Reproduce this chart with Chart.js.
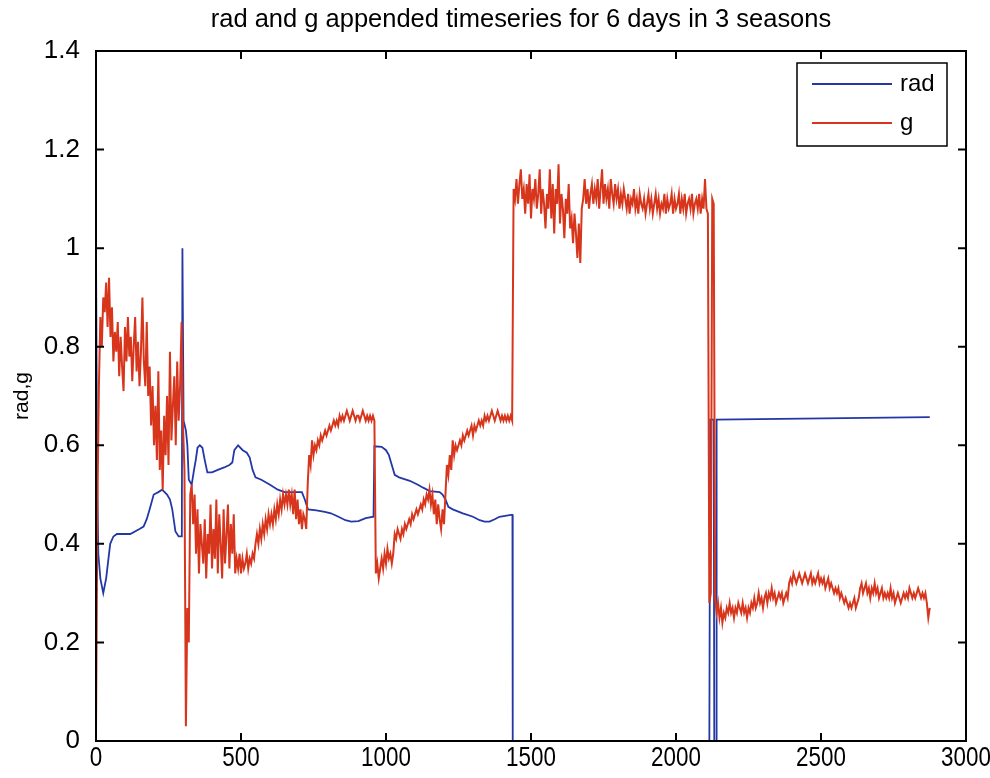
<!DOCTYPE html>
<html lang="en">
  <head>
    <meta charset="UTF-8" />
    <title>rad and g appended timeseries</title>
    <style>
      html, body { margin: 0; padding: 0; background: #fff; }
      canvas { display: block; }
    </style>
  </head>
  <body>
    <canvas id="grafico" width="990" height="778"></canvas>
    <script src="https://cdn.jsdelivr.net/npm/chart.js"></script>
    <script>
      // ---- data ----
      const titleText = "rad and g appended timeseries for 6 days in 3 seasons";
      const xTicks = [0, 500, 1000, 1500, 2000, 2500, 3000];
      const yTicks = [0, 0.2, 0.4, 0.6, 0.8, 1, 1.2, 1.4];

      // rad: breakpoints (sample index, value)
      const radT = [0, 4, 8, 15, 25, 35, 49, 60, 72, 118, 150, 164, 175, 185, 199, 215, 228, 245, 255, 263, 274, 285, 296,
        298, 302, 310, 315, 320, 330, 338, 344, 350, 358, 367, 375, 384, 400, 420, 442, 460, 470, 477, 490, 506, 520, 530,
        540, 550, 570, 600, 627, 650, 662, 710, 720, 731, 760, 789, 810, 836, 860, 880, 905, 930, 957,
        960, 985, 1000, 1010, 1020, 1030, 1045, 1082, 1110, 1128, 1151, 1185, 1195, 1205, 1215, 1230, 1265, 1300, 1323,
        1340, 1357, 1375, 1391, 1431, 1436, 1437, 2115, 2118, 2130, 2132, 2138, 2140, 2875];
      const radV = [1.0, 0.53, 0.38, 0.33, 0.30, 0.33, 0.40, 0.415, 0.42, 0.42, 0.43, 0.435, 0.45, 0.47, 0.5, 0.505, 0.51, 0.5, 0.49, 0.47, 0.425, 0.415, 0.415,
        1.0, 0.65, 0.63, 0.6, 0.53, 0.52, 0.55, 0.57, 0.595, 0.6, 0.595, 0.57, 0.545, 0.545, 0.55, 0.555, 0.56, 0.565, 0.59, 0.6, 0.59, 0.585, 0.575,
        0.55, 0.535, 0.53, 0.52, 0.51, 0.505, 0.505, 0.505, 0.49, 0.47, 0.468, 0.465, 0.462, 0.455, 0.448, 0.445, 0.446, 0.452, 0.455,
        0.598, 0.597, 0.59, 0.58, 0.56, 0.54, 0.535, 0.528, 0.52, 0.514, 0.507, 0.505, 0.5, 0.49, 0.475, 0.47, 0.462, 0.455, 0.448,
        0.445, 0.445, 0.45, 0.455, 0.459, 0.459, 0, 0, 0.652, 0.652, 0, 0, 0.652, 0.657];

      // g: one value every 5 samples, in blocks
      const sampleStep = 5;
      const g0 = [ // t 0..300
        0.02, 0.49, 0.72, 0.86, 0.80, 0.90, 0.87, 0.93, 0.84, 0.94,
        0.82, 0.88, 0.77, 0.83, 0.79, 0.85, 0.74, 0.82, 0.76, 0.71,
        0.84, 0.77, 0.86, 0.78, 0.82, 0.73, 0.80, 0.86, 0.75, 0.81,
        0.72, 0.79, 0.90, 0.77, 0.72, 0.85, 0.70, 0.76, 0.64, 0.72,
        0.60, 0.68, 0.57, 0.75, 0.55, 0.63, 0.51, 0.66, 0.58, 0.70,
        0.56, 0.79, 0.61, 0.68, 0.74, 0.60, 0.77, 0.65, 0.72, 0.85,
        0.64];
      const g1 = [ // t 305..960
        0.55, 0.03, 0.27, 0.20, 0.50, 0.52, 0.44, 0.50, 0.38, 0.47,
        0.34, 0.44, 0.40, 0.36, 0.45, 0.33, 0.42, 0.38, 0.48, 0.35,
        0.43, 0.37, 0.49, 0.34, 0.46, 0.40, 0.33, 0.47, 0.36, 0.42,
        0.48, 0.35, 0.44, 0.38, 0.46, 0.34, 0.37, 0.35, 0.38, 0.34,
        0.37, 0.35, 0.36, 0.38, 0.35, 0.37, 0.36, 0.38, 0.37, 0.40,
        0.42, 0.40, 0.43, 0.41, 0.44, 0.42, 0.45, 0.43, 0.46, 0.44,
        0.46, 0.44, 0.47, 0.45, 0.48, 0.46, 0.49, 0.47, 0.50, 0.48,
        0.50, 0.48, 0.51, 0.48, 0.50, 0.46, 0.51, 0.45, 0.49, 0.44,
        0.47, 0.43, 0.46, 0.45, 0.43, 0.52, 0.58, 0.56, 0.61, 0.58,
        0.60, 0.59, 0.61, 0.60, 0.62, 0.61, 0.62, 0.63, 0.62, 0.63,
        0.64, 0.63, 0.64, 0.65, 0.64, 0.65, 0.64, 0.66, 0.65, 0.66,
        0.65, 0.66, 0.67, 0.66, 0.65, 0.66, 0.67, 0.66, 0.65, 0.66,
        0.66, 0.65, 0.66, 0.67, 0.66, 0.65, 0.66, 0.65, 0.66, 0.65,
        0.66, 0.65];
      const g2 = [ // t 965..1435
        0.34, 0.36, 0.33, 0.35, 0.37, 0.35, 0.38, 0.36, 0.39, 0.37,
        0.38, 0.36, 0.38, 0.42, 0.41, 0.43, 0.42, 0.41, 0.43, 0.42,
        0.44, 0.43, 0.44, 0.45, 0.44, 0.46, 0.45, 0.46, 0.47, 0.46,
        0.47, 0.48, 0.47, 0.49, 0.48, 0.50, 0.49, 0.51, 0.48, 0.50,
        0.46, 0.49, 0.44, 0.48, 0.45, 0.43, 0.47, 0.44, 0.50, 0.56,
        0.54, 0.58, 0.55, 0.61, 0.58, 0.60, 0.59, 0.60, 0.61, 0.60,
        0.62, 0.61, 0.62, 0.63, 0.62, 0.63, 0.64, 0.62, 0.64, 0.63,
        0.64, 0.65, 0.64, 0.65, 0.64, 0.66, 0.65, 0.66, 0.65, 0.66,
        0.67, 0.66, 0.65, 0.66, 0.67, 0.66, 0.65, 0.66, 0.65, 0.66,
        0.65, 0.66, 0.65, 0.66, 0.65];
      const g3 = [ // t 1440..2110
        1.12, 1.10, 1.14, 1.09, 1.13, 1.16, 1.10, 1.12, 1.07, 1.13,
        1.09, 1.15, 1.06, 1.12, 1.10, 1.14, 1.08, 1.11, 1.16, 1.07,
        1.12, 1.09, 1.04, 1.11, 1.08, 1.16, 1.06, 1.13, 1.03, 1.12,
        1.09, 1.17, 1.05, 1.11, 1.08, 1.02, 1.10, 1.07, 1.13, 1.04,
        1.06, 1.01, 1.07, 1.03, 0.98, 1.05, 0.97, 1.08, 1.10, 1.14,
        1.09, 1.12, 1.08, 1.11, 1.13, 1.09, 1.12, 1.10, 1.14, 1.08,
        1.12, 1.16, 1.09, 1.13, 1.10, 1.12, 1.08, 1.14, 1.11, 1.09,
        1.13, 1.10, 1.12, 1.08, 1.11, 1.09, 1.12, 1.10, 1.08, 1.11,
        1.07, 1.10, 1.09, 1.12, 1.08, 1.10, 1.07, 1.11, 1.09, 1.08,
        1.10, 1.07, 1.09, 1.11, 1.08, 1.10, 1.07, 1.09, 1.11, 1.08,
        1.10, 1.07, 1.09, 1.08, 1.11, 1.07, 1.10, 1.08, 1.09, 1.11,
        1.07, 1.10, 1.08, 1.09, 1.11, 1.07, 1.10, 1.08, 1.11, 1.07,
        1.09, 1.10, 1.08, 1.11, 1.07, 1.09, 1.10, 1.08, 1.11, 1.07,
        1.10, 1.08, 1.14, 1.08, 1.07];
      const g4 = [0.28, 0.30, 1.10, 1.09, 0.29]; // t 2115..2135
      const g5 = [ // t 2140..2875
        0.26, 0.28, 0.25, 0.27, 0.24, 0.26, 0.25, 0.27, 0.26, 0.28,
        0.26, 0.27, 0.25, 0.27, 0.26, 0.28, 0.27, 0.26, 0.28, 0.26,
        0.27, 0.25, 0.27, 0.26, 0.28, 0.27, 0.29, 0.27, 0.28, 0.30,
        0.28, 0.29, 0.27, 0.29, 0.30, 0.28, 0.30, 0.29, 0.31, 0.29,
        0.30, 0.28, 0.29, 0.30, 0.29, 0.30, 0.28, 0.29, 0.30, 0.29,
        0.32, 0.33, 0.32, 0.34, 0.33, 0.32, 0.33, 0.34, 0.33, 0.32,
        0.33, 0.34, 0.33, 0.32, 0.33, 0.34, 0.32, 0.33, 0.32, 0.33,
        0.34, 0.32, 0.33, 0.32, 0.33, 0.31, 0.32, 0.33, 0.31, 0.32,
        0.31, 0.30, 0.31, 0.30, 0.31, 0.29, 0.30, 0.29, 0.28, 0.29,
        0.28, 0.27, 0.28, 0.27, 0.28, 0.29, 0.27, 0.28, 0.29, 0.31,
        0.32, 0.30, 0.31, 0.32, 0.30, 0.31, 0.29, 0.31, 0.30, 0.32,
        0.30, 0.31, 0.29, 0.30, 0.31, 0.29, 0.30, 0.29, 0.30, 0.29,
        0.31, 0.29, 0.30, 0.28, 0.29, 0.30, 0.29, 0.28, 0.29, 0.30,
        0.29, 0.30, 0.29, 0.31, 0.30, 0.29, 0.30, 0.29, 0.30, 0.31,
        0.30, 0.29, 0.30, 0.29, 0.30, 0.28, 0.25, 0.27];
      const gBlocks = [[0, g0], [305, g1], [965, g2], [1440, g3], [2115, g4], [2140, g5]];

      const radPoints = radT.map((t, i) => ({ x: t, y: radV[i] }));
      const gPoints = gBlocks.flatMap(([t0, vals]) =>
        vals.map((v, i) => ({ x: t0 + i * sampleStep, y: v }))
      );

      const FONT = "'Liberation Sans', Arial, sans-serif";

      // centred text, optionally squeezed horizontally (narrow look of the x labels)
      function narrowText(ctx, txt, x, y, size, squeeze) {
        ctx.save();
        ctx.translate(x, y);
        ctx.scale(squeeze, 1);
        ctx.font = size + "px " + FONT;
        ctx.textAlign = "center";
        ctx.textBaseline = "middle";
        ctx.fillText(txt, 0, 0);
        ctx.restore();
      }

      // frame, inward ticks, x labels, legend box and title
      const eixosMatlab = {
        id: "eixosMatlab",
        afterDatasetsDraw(chart) {
          const { ctx, chartArea: a, scales } = chart;
          const sx = scales.x, sy = scales.y;
          ctx.save();
          ctx.strokeStyle = "#000";
          ctx.lineWidth = 2;
          ctx.strokeRect(a.left, a.top, a.right - a.left, a.bottom - a.top);

          const len = 8;
          ctx.beginPath();
          xTicks.slice(1, -1).forEach((v) => {
            const px = sx.getPixelForValue(v);
            ctx.moveTo(px, a.bottom); ctx.lineTo(px, a.bottom - len);
            ctx.moveTo(px, a.top); ctx.lineTo(px, a.top + len);
          });
          yTicks.slice(1, -1).forEach((v) => {
            const py = sy.getPixelForValue(v);
            ctx.moveTo(a.left, py); ctx.lineTo(a.left + len, py);
            ctx.moveTo(a.right, py); ctx.lineTo(a.right - len, py);
          });
          ctx.stroke();

          ctx.fillStyle = "#000";
          xTicks.forEach((v) => {
            narrowText(ctx, String(v), sx.getPixelForValue(v), a.bottom + 17, 28, 0.8);
          });

          // legend
          const box = { l: 797, t: 63, w: 150, h: 83 };
          ctx.fillStyle = "#fff";
          ctx.fillRect(box.l, box.t, box.w, box.h);
          ctx.lineWidth = 1.5;
          ctx.strokeRect(box.l, box.t, box.w, box.h);
          [0, 1].forEach((di, k) => {
            const ds = chart.data.datasets[di];
            const y = box.t + 21 + k * 39;
            ctx.strokeStyle = ds.borderColor;
            ctx.lineWidth = 2;
            ctx.beginPath();
            ctx.moveTo(box.l + 15, y);
            ctx.lineTo(box.l + 95, y);
            ctx.stroke();
            ctx.fillStyle = "#000";
            ctx.font = "24px " + FONT;
            ctx.textBaseline = "middle";
            ctx.textAlign = "left";
            ctx.fillText(ds.label, box.l + 103, y);
          });

          // title
          ctx.fillStyle = "#000";
          narrowText(ctx, titleText, 521, 20, 26, 0.98);
          ctx.restore();
        },
      };

      new Chart(document.getElementById("grafico"), {
        type: "line",
        data: {
          datasets: [
            {
              label: "rad",
              data: radPoints,
              borderColor: "#2338a6",
              borderWidth: 1.8,
              pointRadius: 0,
              tension: 0,
              order: 1,
            },
            {
              label: "g",
              data: gPoints,
              borderColor: "#d8361c",
              borderWidth: 2,
              pointRadius: 0,
              tension: 0,
              order: 0,
            },
          ],
        },
        options: {
          responsive: false,
          animation: false,
          events: [],
          layout: { padding: { top: 51, right: 24, left: 0, bottom: 0 } },
          plugins: {
            legend: { display: false },
            tooltip: { enabled: false },
          },
          scales: {
            x: {
              type: "linear",
              min: 0,
              max: 3000,
              afterBuildTicks: (s) => { s.ticks = xTicks.map((v) => ({ value: v })); },
              afterFit: (s) => {
                s.height = 37;
                s.paddingLeft = 0;
                s.paddingRight = 0;
              },
              grid: { display: false, drawTicks: false },
              border: { display: false },
              ticks: { display: false },
            },
            y: {
              min: 0,
              max: 1.4,
              afterBuildTicks: (s) => { s.ticks = yTicks.map((v) => ({ value: v })); },
              afterFit: (s) => {
                s.width = 96;
                s.paddingTop = 0;
                s.paddingBottom = 0;
              },
              grid: { display: false, drawTicks: false },
              border: { display: false },
              title: {
                display: true,
                text: "rad,g",
                color: "#000",
                font: { family: FONT, size: 21 },
                padding: { top: 10, bottom: 0 },
              },
              ticks: {
                color: "#000",
                padding: 16,
                font: { family: FONT, size: 26 },
                callback: (v) => String(Math.round(v * 10) / 10),
              },
            },
          },
        },
        plugins: [eixosMatlab],
      });
    </script>
  </body>
</html>
